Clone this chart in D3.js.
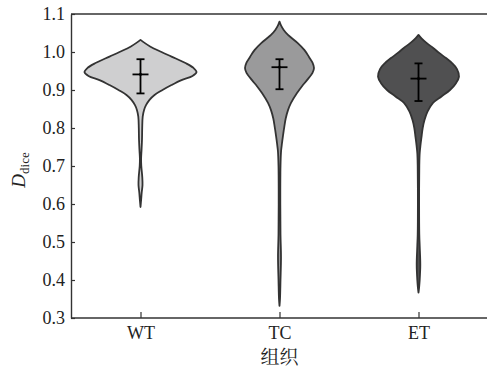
<!DOCTYPE html>
<html><head><meta charset="utf-8">
<script src="https://cdn.jsdelivr.net/npm/d3@7"></script>
<style>
html,body{margin:0;padding:0;background:#fff;}
svg{display:block;}
.serif{font-family:"Liberation Serif","Times New Roman",serif;}
</style></head>
<body>
<svg id="chart" width="487" height="369"></svg>
<script>
const categories = ["WT", "TC", "ET"];
const fills = ["#cfcfd0", "#9a9a9b", "#505051"];
const yTicks = [0.3, 0.4, 0.5, 0.6, 0.7, 0.8, 0.9, 1.0, 1.1];

// density profiles: [value, relative density]
const densityWT = [
  [1.032,0],[1.026,0.3],[1.014,1.0],[1.0,2.1],[0.988,3.1],[0.971,4.5],[0.958,5.3],[0.947,5.6],
  [0.937,5.2],[0.926,4.1],[0.913,3.1],[0.9,2.2],[0.887,1.4],[0.874,0.9],[0.86,0.55],[0.847,0.35],
  [0.83,0.22],[0.8,0.17],[0.77,0.15],[0.74,0.1],[0.72,0.06],[0.7,0.08],[0.67,0.18],[0.65,0.2],
  [0.63,0.12],[0.61,0.06],[0.592,0]
];
const densityTC = [
  [1.08,0],[1.07,0.15],[1.058,0.42],[1.045,0.85],[1.024,1.8],[1.005,2.5],[0.987,2.95],[0.972,3.3],
  [0.958,3.45],[0.945,3.3],[0.926,2.75],[0.91,2.25],[0.892,1.75],[0.866,1.15],[0.847,0.85],
  [0.825,0.62],[0.803,0.48],[0.78,0.35],[0.76,0.25],[0.74,0.16],[0.7,0.1],[0.6,0.08],[0.52,0.1],
  [0.46,0.15],[0.4,0.1],[0.35,0.05],[0.332,0]
];
const densityET = [
  [1.045,0],[1.036,0.3],[1.024,0.8],[1.01,1.5],[0.997,2.1],[0.984,2.75],[0.971,3.35],[0.955,3.85],
  [0.935,4.05],[0.918,3.75],[0.9,3.15],[0.883,2.3],[0.866,1.45],[0.843,0.9],[0.821,0.6],[0.8,0.42],
  [0.776,0.3],[0.755,0.2],[0.734,0.12],[0.7,0.08],[0.6,0.06],[0.52,0.08],[0.49,0.12],[0.44,0.18],
  [0.4,0.12],[0.38,0.06],[0.367,0]
];
const densities = [densityWT, densityTC, densityET];
const means = [0.941, 0.960, 0.930];
const upper = [0.981, 0.981, 0.970];
const lower = [0.891, 0.902, 0.871];

const svg = d3.select("#chart");
const L = 71, R = 488, T = 14, B = 318;

const x = d3.scalePoint().domain(categories).range([L, R]).padding(0.5);
const y = d3.scaleLinear().domain([0.3, 1.1]).range([B, T]);
const w = d3.scaleLinear().domain([0, 1]).range([0, 10]);

const area = d3.area()
  .y(d => y(d[0]))
  .curve(d3.curveCatmullRom);

categories.forEach((c, i) => {
  const cx = x(c);
  svg.append("path")
    .datum(densities[i])
    .attr("d", area.x0(d => cx - w(d[1])).x1(d => cx + w(d[1])))
    .attr("fill", fills[i])
    .attr("stroke", "#333")
    .attr("stroke-width", 1.8)
    .attr("stroke-linejoin", "round");
});

// error bars
const eb = svg.append("g").attr("stroke", "#000").attr("stroke-width", 1.8).attr("fill", "none");
categories.forEach((c, i) => {
  const cx = x(c);
  eb.append("line").attr("x1", cx).attr("x2", cx).attr("y1", y(upper[i])).attr("y2", y(lower[i]));
  eb.append("line").attr("x1", cx - 4).attr("x2", cx + 4).attr("y1", y(upper[i])).attr("y2", y(upper[i]));
  eb.append("line").attr("x1", cx - 4).attr("x2", cx + 4).attr("y1", y(lower[i])).attr("y2", y(lower[i]));
  eb.append("line").attr("x1", cx - 8).attr("x2", cx + 8).attr("y1", y(means[i])).attr("y2", y(means[i]));
  eb.append("circle").attr("cx", cx).attr("cy", y(means[i])).attr("r", 1.2).attr("stroke-width", 0.8);
});

// axes
const yAxis = svg.append("g").attr("transform", `translate(${L},0)`)
  .call(d3.axisLeft(y).tickValues(yTicks).tickFormat(d3.format(".1f")).tickSizeInner(-4).tickSizeOuter(0).tickPadding(6));
const xAxis = svg.append("g").attr("transform", `translate(0,${B})`)
  .call(d3.axisBottom(x).tickSizeInner(-6).tickSizeOuter(0).tickPadding(8));
[yAxis, xAxis].forEach(g => {
  g.attr("font-family", null).attr("font-size", null);
  g.selectAll("text").attr("class", "serif").style("font-size", "18px").attr("fill", "#222");
  g.selectAll("line").attr("stroke", "#333").attr("stroke-width", 1.2);
  g.select(".domain").attr("stroke", "#333").attr("stroke-width", 1.4);
});
xAxis.select(".domain").attr("d", `M${L},0H${R}`);
svg.append("line").attr("x1", L).attr("x2", R).attr("y1", T).attr("y2", T)
  .attr("stroke", "#333").attr("stroke-width", 1.4);

// labels
const yl = svg.append("text")
  .attr("class", "serif")
  .attr("transform", `translate(25,${(T + B) / 2 + 4}) rotate(-90)`)
  .attr("text-anchor", "middle")
  .attr("fill", "#222");
yl.append("tspan").style("font-style", "italic").style("font-size", "19px").text("D");
yl.append("tspan").style("font-size", "13px").attr("dy", 4).text("dice");

svg.append("text")
  .attr("x", (L + R) / 2).attr("y", 364)
  .attr("text-anchor", "middle")
  .style("font-family", "'Noto Serif CJK SC','Noto Sans CJK SC',serif")
  .style("font-size", "19px").attr("fill", "#222")
  .text("组织");
</script>
</body></html>
